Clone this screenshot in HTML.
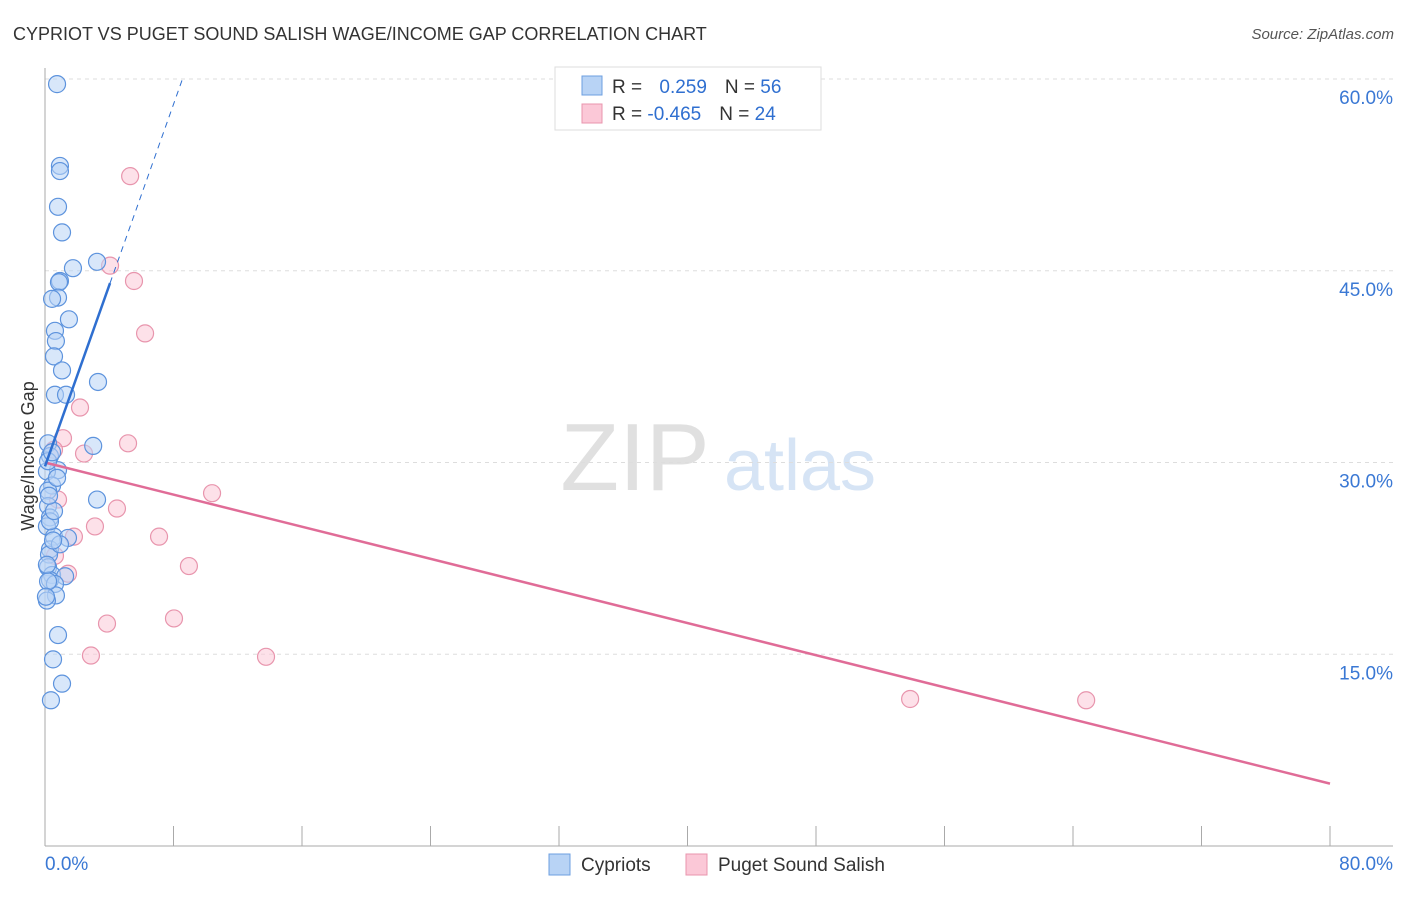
<!DOCTYPE html>
<html><head><meta charset="utf-8"><style>
body{margin:0;background:#fff;font-family:"Liberation Sans",sans-serif}
svg text{font-family:"Liberation Sans",sans-serif}
</style></head><body>
<svg width="1406" height="892" xmlns="http://www.w3.org/2000/svg">
<text x="13" y="40" font-size="18" fill="#333">CYPRIOT VS PUGET SOUND SALISH WAGE/INCOME GAP CORRELATION CHART</text>
<text x="1394" y="39" font-size="15" fill="#555" font-style="italic" text-anchor="end">Source: ZipAtlas.com</text>
<g>
<text x="635" y="490" font-size="96" fill="#e0e0e0" text-anchor="middle" font-family="Liberation Serif">ZIP</text>
<text x="800" y="490" font-size="72" fill="#d6e4f5" text-anchor="middle">atlas</text></g>
<g id="grid"></g><g id="axes"></g><g id="marks"></g>
<text transform="translate(34,456) rotate(-90)" font-size="18" fill="#333" text-anchor="middle">Wage/Income Gap</text>
<g>
<rect x="555" y="67" width="266" height="63" fill="#fff" stroke="#ddd"/>
<rect x="582" y="76" width="20" height="19" fill="#b8d3f5" stroke="#6d9fe0"/>
<rect x="582" y="104" width="20" height="19" fill="#fbc8d7" stroke="#e895ad"/>
<text x="612" y="93" font-size="19" fill="#333">R = <tspan fill="#2f6fd0" dx="12">0.259</tspan><tspan fill="#333" dx="18">N = </tspan><tspan fill="#2f6fd0">56</tspan></text>
<text x="612" y="120" font-size="19" fill="#333">R = <tspan fill="#2f6fd0">-0.465</tspan><tspan fill="#333" dx="18">N = </tspan><tspan fill="#2f6fd0">24</tspan></text>
</g>
<g>
<rect x="549" y="854" width="21" height="21" fill="#b8d3f5" stroke="#6d9fe0"/>
<text x="581" y="871" font-size="19" fill="#333">Cypriots</text>
<rect x="686" y="854" width="21" height="21" fill="#fbc8d7" stroke="#e895ad"/>
<text x="718" y="871" font-size="19" fill="#333">Puget Sound Salish</text>
</g>
</svg>
<script>
const yTicks=[15,30,45,60];
const yTickLabels=["15.0%","30.0%","45.0%","60.0%"];
const xTickLabels=["0.0%","80.0%"];
const cypX=[0.75,0.93,0.93,0.81,1.06,3.24,1.74,0.93,0.87,0.81,0.44,1.49,0.62,0.68,0.56,1.06,3.3,0.62,1.31,3.0,0.19,0.31,0.81,0.12,0.44,0.19,3.24,0.19,0.31,0.12,0.56,1.43,0.31,0.25,0.19,0.44,1.25,0.31,0.62,0.68,0.12,0.81,0.5,1.06,0.37,0.19,0.44,0.31,0.93,0.19,0.06,0.56,0.25,0.75,0.12,0.5];
const cypY=[59.6,53.2,52.8,50.0,48.0,45.7,45.2,44.2,44.1,42.9,42.8,41.2,40.3,39.5,38.3,37.2,36.3,35.3,35.3,31.3,31.5,30.5,29.4,29.3,28.2,27.8,27.1,26.6,25.7,25.0,24.2,24.1,23.2,22.8,21.8,21.2,21.1,20.8,20.5,19.6,19.2,16.5,14.6,12.7,11.4,30.1,30.8,25.4,23.6,20.7,19.5,26.2,27.4,28.8,22.0,23.9];
const psX=[5.3,4.05,5.54,6.23,2.18,1.12,5.17,0.56,2.43,10.4,0.81,4.48,3.11,1.8,7.1,0.62,8.96,1.43,3.86,8.03,2.86,13.76,53.86,64.82];
const psY=[52.4,45.4,44.2,40.1,34.3,31.9,31.5,31.0,30.7,27.6,27.1,26.4,25.0,24.2,24.2,22.7,21.9,21.3,17.4,17.8,14.9,14.8,11.5,11.4];
const cypLine=[29.7,3.54];   // intercept, slope
const psLine=[30.0,-0.314];
const X0=45,X1=1330,Y0=846,Y60=79;
const sx=v=>X0+(X1-X0)*v/80, sy=v=>Y0-(Y0-Y60)*v/60;
const NS="http://www.w3.org/2000/svg";
function mk(t,a,p){const e=document.createElementNS(NS,t);for(const k in a)e.setAttribute(k,a[k]);p.appendChild(e);return e;}
const grid=document.getElementById('grid'),axes=document.getElementById('axes'),marks=document.getElementById('marks');
yTicks.forEach((t,i)=>{
 const l=mk('line',{x1:X0,x2:1393,y1:sy(t),y2:sy(t),stroke:'#ddd','stroke-dasharray':'4,4'},grid);
 
 
 const tx=mk('text',{x:1393,y:sy(t)+25,'font-size':19,fill:'#3a78d4','text-anchor':'end'},axes);
 tx.textContent=yTickLabels[i];
 
 
});
const ax=mk('line',{x1:X0,x2:X0,y1:68,y2:846,stroke:'#aaa'},axes);


const bx=mk('line',{x1:X0,x2:1393,y1:846,y2:846,stroke:'#aaa'},axes);


for(let i=0;i<=10;i++){const t=mk('line',{x1:sx(i*8),x2:sx(i*8),y1:826,y2:846,stroke:'#aaa'},axes);
 
 }
[[0,'start'],[80,'end']].forEach((d,i)=>{const t=mk('text',{x:i?1393:45,y:870,'font-size':19,fill:'#3a78d4','text-anchor':d[1]},axes);t.textContent=xTickLabels[i];
 
 });
function dot(x,y,f,s,n){const c=mk('circle',{cx:sx(x),cy:sy(y),r:8.5,fill:f,stroke:s,'stroke-width':1.2,'fill-opacity':0.55},marks);
 
 }
psX.forEach((x,i)=>dot(x,psY[i],'#fbc8d7','#e895ad','salish-point'));
cypX.forEach((x,i)=>dot(x,cypY[i],'#b8d3f5','#5d93dd','cypriot-point'));
const pl=mk('line',{x1:sx(0),y1:sy(psLine[0]),x2:sx(80),y2:sy(psLine[0]+80*psLine[1]),stroke:'#e06c97','stroke-width':2.5},marks);


const xe=4.05,xd=(60-cypLine[0])/cypLine[1];
const cl=mk('line',{x1:sx(0),y1:sy(cypLine[0]),x2:sx(xe),y2:sy(cypLine[0]+xe*cypLine[1]),stroke:'#2f6fd0','stroke-width':2.5},marks);


const cd=mk('line',{x1:sx(xe),y1:sy(cypLine[0]+xe*cypLine[1]),x2:sx(xd),y2:sy(60),stroke:'#2f6fd0','stroke-width':1,'stroke-dasharray':'6,5'},marks);


</script>
</body></html>
